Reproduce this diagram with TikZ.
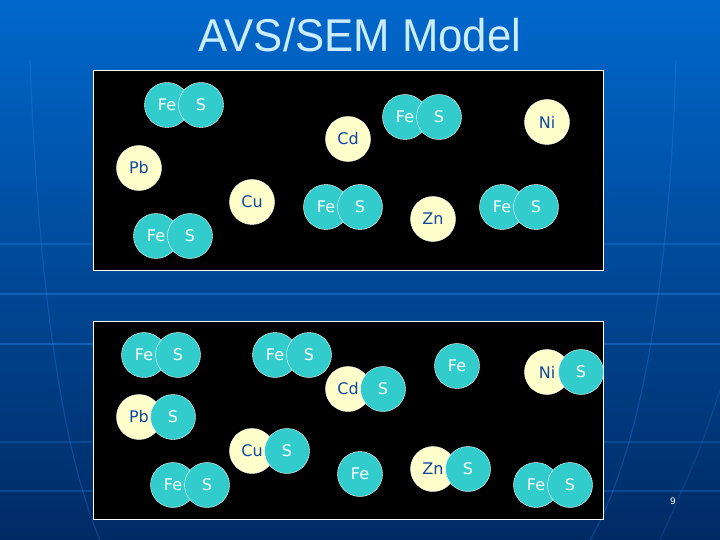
\documentclass[tikz,border=0pt]{standalone}
\usepackage{fontspec}
\setmainfont{DejaVu Sans}
\newfontfamily\titlefont{Liberation Sans}
\usetikzlibrary{positioning}
\definecolor{SlideTop}{RGB}{0,104,204}
\definecolor{SlideBottom}{RGB}{0,42,100}
\definecolor{GridLine}{RGB}{40,130,230}
\definecolor{TitleText}{RGB}{204,236,255}
\definecolor{SulfideCyan}{RGB}{51,204,204}
\definecolor{MetalYellow}{RGB}{255,255,204}
\definecolor{MetalText}{RGB}{16,72,160}

\begin{document}
\begin{tikzpicture}[x=1pt,y=-1pt,
        fe/.style={circle,draw=white,thin,fill=SulfideCyan,text=white,
                   font=\fontsize{16}{16}\selectfont,minimum size=45pt,inner sep=0pt},
        sul/.style={fe},
        metal/.style={fe,fill=MetalYellow,text=MetalText},
        panel/.style={draw=white,fill=black,line width=1pt},
        grid/.style={draw=GridLine,opacity=0.45,line width=1.2pt}
      ]
        % slide background
        \shade[top color=SlideTop,bottom color=SlideBottom] (0,0) rectangle (720,540);
        \useasboundingbox (0,0) rectangle (720,540);
        \draw[grid] (0,294) -- (720,294);
        \draw[grid] (0,344) -- (720,344);
        \draw[grid,opacity=0.25] (0,442) -- (720,442);
        \draw[grid,opacity=0.3] (0,491) -- (720,491);
        \draw[grid,opacity=0.3] (0,244) -- (720,244);
        \draw[grid,opacity=0.3] (30,60) .. controls (40,330) and (70,470) .. (100,540);
        \draw[grid,opacity=0.3] (676,60) .. controls (668,330) and (630,470) .. (590,540);
        \draw[grid,opacity=0.2] (720,390) .. controls (700,450) .. (660,540);
        \node[font=\titlefont\fontsize{46}{46}\selectfont,text=TitleText,
              xscale=0.95,transform shape] (title) at (360,35) {AVS/SEM Model};
        % upper panel
        \draw[panel] (93,71) rectangle (603,270);
        \node[fe] (fea) at (167,105) {Fe};
        \node[sul] (sa) at (201,105) {S};
        \node[metal] (pba) at (139,168) {Pb};
        \node[metal] (cua) at (252,202) {Cu};
        \node[metal] (cda) at (348,139) {Cd};
        \node[fe] (feb) at (326,207) {Fe};
        \node[sul] (sb) at (360,207) {S};
        \node[fe] (fec) at (156,236) {Fe};
        \node[sul] (sc) at (190,236) {S};
        \node[fe] (fed) at (405,117) {Fe};
        \node[sul] (sd) at (439,117) {S};
        \node[metal] (nia) at (547,122) {Ni};
        \node[metal] (zna) at (433,219) {Zn};
        \node[fe] (fee) at (502,207) {Fe};
        \node[sul] (se) at (536,207) {S};
        % lower panel
        \draw[panel] (93,321) rectangle (603,519);
        \node[fe] (fef) at (144,355) {Fe};
        \node[sul] (sf) at (178,355) {S};
        \node[fe] (feg) at (275,355) {Fe};
        \node[sul] (sg) at (309,355) {S};
        \node[metal] (cdb) at (348,389) {Cd};
        \node[sul] (sh) at (383,389) {S};
        \node[metal] (pbb) at (139,417) {Pb};
        \node[sul] (si) at (173,417) {S};
        \node[metal] (cub) at (252,451) {Cu};
        \node[sul] (sj) at (287,451) {S};
        \node[fe] (fek) at (173,485) {Fe};
        \node[sul] (sk) at (207,485) {S};
        \node[fe] (fel) at (360,474) {Fe};
        \node[fe] (fem) at (457,366) {Fe};
        \node[metal] (nib) at (547,372) {Ni};
        \node[sul] (sn) at (581,372) {S};
        \node[metal] (znb) at (433,469) {Zn};
        \node[sul] (so) at (468,469) {S};
        \node[fe] (fep) at (536,485) {Fe};
        \node[sul] (sp) at (570,485) {S};
        % slide number
        \node[font=\fontsize{9}{9}\selectfont,text=white] (pageno) at (673,501) {9};
      \end{tikzpicture}
\end{document}
